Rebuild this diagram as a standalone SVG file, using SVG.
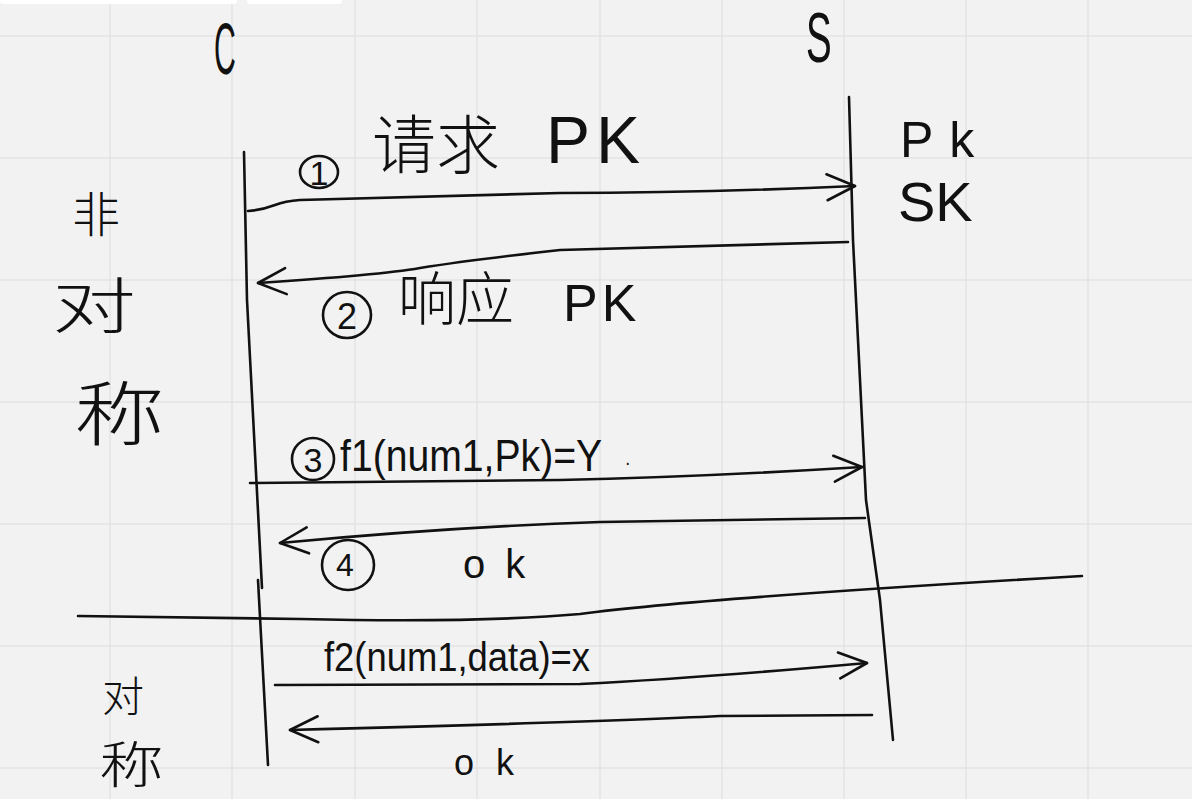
<svg xmlns="http://www.w3.org/2000/svg" width="1192" height="799" viewBox="0 0 1192 799">
<style>
.ink{fill:none;stroke:#111;stroke-width:2.6;stroke-linecap:round;stroke-linejoin:round}
.grid{stroke:#e4e4e4;stroke-width:1.5}
.lat{font-family:"Liberation Sans",Arial,sans-serif;fill:#111}
.cjk{font-family:"Noto Sans CJK SC","Noto Sans CJK JP",sans-serif;fill:#111;font-weight:300}
.num{font-family:"Liberation Sans",Arial,sans-serif;fill:#111;text-anchor:middle}
.arrow{marker-end:url(#chev)}
</style>
<defs>
<marker id="chev" markerUnits="userSpaceOnUse" viewBox="-32 -16 36 32" refX="0" refY="0" markerWidth="36" markerHeight="32" orient="auto">
<path d="M-28,-13 L0,0 L-28,13" fill="none" stroke="#111" stroke-width="2.6" stroke-linecap="round" stroke-linejoin="round"/>
</marker>
</defs>
<rect width="1192" height="799" fill="#f2f2f2"/>
<g id="grid">
<path class="grid" d="M110,0V799M232,0V799M355,0V799M477,0V799M600,0V799M722,0V799M844,0V799M966,0V799M1088,0V799"/>
<path class="grid" d="M0,36H1192M0,158H1192M0,280H1192M0,402H1192M0,524H1192M0,646H1192M0,768H1192"/>
</g>
<rect x="0" y="-6" width="237" height="10" rx="3" fill="#ffffff"/>
<rect x="247" y="-6" width="95" height="10" rx="3" fill="#ffffff"/>

<g id="client">
<text class="lat" transform="translate(214,74) scale(0.42,1)" font-size="72">C</text>
<path class="ink" d="M244,152 L247,300 L262,588"/>
<path class="ink" d="M258,580 L268,765"/>
</g>
<g id="server">
<text class="lat" transform="translate(806,62) scale(0.55,1)" font-size="70">S</text>
<path class="ink" d="M849,97 L853,240 L866,500 L880,600 L893,740"/>
<text class="lat" x="900" y="157" font-size="50" letter-spacing="16">Pk</text>
<text class="lat" x="898" y="221" font-size="56">SK</text>
</g>
<g id="label-asym">
<text class="cjk" x="72" y="232" font-size="48">非</text>
<text class="cjk" transform="translate(52,328) scale(1.4,1)" font-size="60">对</text>
<text class="cjk" transform="translate(74,440) scale(1.3,1)" font-size="70">称</text>
</g>
<g id="label-sym">
<text class="cjk" x="102" y="712" font-size="42">对</text>
<text class="cjk" transform="translate(99,783) scale(1.3,1)" font-size="50">称</text>
</g>
<g id="divider">
<path class="ink" d="M78,616 L300,619 Q480,623 580,614 Q700,598 1082,576"/>
</g>

<g id="connectors">
<path class="ink arrow" d="M248,211 Q262,210 275,205 Q285,201 300,200 L560,193 Q700,193 855,186"/>
<path class="ink arrow" d="M848,242 L560,250 Q470,260 420,268 Q380,275 258,283"/>
<path class="ink arrow" d="M250,483 L560,480 Q700,477 862,467"/>
<path class="ink arrow" d="M865,518 L600,522 Q450,527 280,543"/>
<path class="ink arrow" d="M275,685 L580,684 Q700,678 867,663"/>
<path class="ink arrow" d="M872,715 L720,716 Q600,722 290,730"/>
</g>

<g id="msg1">
<ellipse class="ink" cx="319" cy="172" rx="19" ry="16"/>
<text class="num" x="319" y="185" font-size="34">1</text>
<text class="cjk" x="372" y="168" font-size="64">请求</text>
<text class="lat" x="546" y="163" font-size="66" letter-spacing="6">PK</text>
</g>
<g id="msg2">
<ellipse class="ink" cx="347" cy="315" rx="24" ry="23"/>
<text class="num" x="347" y="329" font-size="36">2</text>
<text class="cjk" x="398" y="320" font-size="58">响应</text>
<text class="lat" x="563" y="321" font-size="52" letter-spacing="4">PK</text>
</g>
<g id="msg3">
<circle class="ink" cx="313" cy="459" r="21"/>
<text class="num" x="313" y="472" font-size="34">3</text>
<text class="lat" transform="translate(340,471) scale(0.89,1)" font-size="44">f1(num1,Pk)=Y<tspan dx="26" dy="-6" font-size="20">.</tspan></text>
</g>
<g id="msg4">
<ellipse class="ink" cx="348" cy="565" rx="26" ry="25"/>
<text class="num" x="345" y="576" font-size="32">4</text>
<text class="lat" x="463" y="578" font-size="40" letter-spacing="20">ok</text>
</g>
<g id="msg5">
<text class="lat" x="324" y="671" font-size="40" textLength="266" lengthAdjust="spacingAndGlyphs">f2(num1,data)=x</text>
</g>
<g id="msg6">
<text class="lat" x="454" y="775" font-size="36" letter-spacing="22">ok</text>
</g>
</svg>
